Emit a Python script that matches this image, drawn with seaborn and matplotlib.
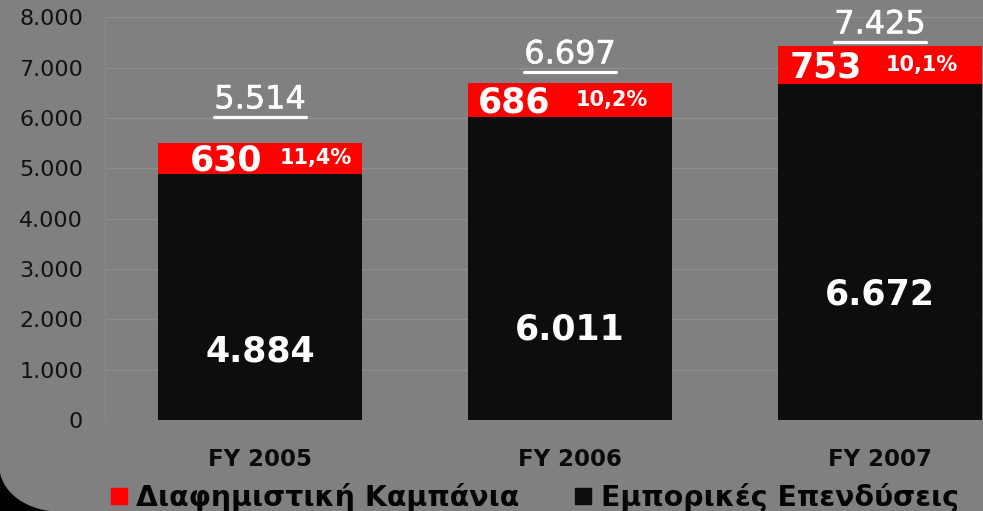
import matplotlib
matplotlib.use("Agg")
import matplotlib.pyplot as plt
import matplotlib.patheffects as pe
import seaborn as sns
import pandas as pd
from matplotlib.patches import Rectangle, Ellipse
from matplotlib.lines import Line2D
from matplotlib.ticker import FuncFormatter, MultipleLocator

# Data
years = ['FY 2005', 'FY 2006', 'FY 2007']
commercial = [4884, 6011, 6672]       # Εμπορικές Επενδύσεις
campaign = [630, 686, 753]            # Διαφημιστική Καμπάνια
campaign_pct = ['11,4%', '10,2%', '10,1%']
totals = [5514, 6697, 7425]
legend_labels = ['Διαφημιστική Καμπάνια', 'Εμπορικές Επενδύσεις']

# label placement (layout only)
inner_label_y = [1352, 1789, 2485]
total_label_y = [6361, 7255, 7851]
num_dx = [-0.11, -0.18, -0.175]
pct_dx = [0.18, 0.135, 0.135]

BG = '#808080'
RED = '#ff0000'
BLACK = '#0d0d0d'


def gr(v):
    return f'{int(v):,}'.replace(',', '.')


df = pd.DataFrame({'year': years, 'commercial': commercial,
                   'campaign': campaign, 'total': totals})

sns.set_style('white')
plt.rcParams['font.family'] = ['DejaVu Sans']

fig = plt.figure(figsize=(9.83, 5.11), dpi=100, facecolor=BG)
ax = fig.add_axes([0.107, 0.178, 0.893, 0.788])
ax.set_facecolor(BG)

# stacked bars: totals in red, commercial part in black over it
sns.barplot(data=df, x='year', y='total', color=RED, width=0.66,
            saturation=1, linewidth=0, ax=ax, zorder=2)
sns.barplot(data=df, x='year', y='commercial', color=BLACK, width=0.66,
            saturation=1, linewidth=0, ax=ax, zorder=3)

ax.set_xlim(-0.5, 2.332)
ax.set_ylim(0, 8000)
ax.yaxis.set_major_locator(MultipleLocator(1000))
ax.yaxis.set_major_formatter(FuncFormatter(lambda v, p: gr(v)))
ax.grid(axis='y', color='#8e8e8e', linewidth=1, zorder=0)
ax.set_axisbelow(True)
for s in ['top', 'right', 'bottom']:
    ax.spines[s].set_visible(False)
ax.spines['left'].set_color('#8a8a8a')
ax.spines['left'].set_linewidth(1)
ax.tick_params(axis='y', length=5, color='#8e8e8e', pad=11,
               labelsize=16, labelcolor='#111111')
ax.tick_params(axis='x', length=0, pad=20)
for lab in ax.get_xticklabels():
    lab.set_fontweight('bold')
    lab.set_fontsize(16.5)
    lab.set_color('#0a0a0a')
ax.set_xlabel('')
ax.set_ylabel('')

for i in range(len(years)):
    ax.text(i, inner_label_y[i], gr(commercial[i]), ha='center', va='center',
            color='white', fontsize=25, fontweight='bold', zorder=5)
    mid = commercial[i] + campaign[i] / 2
    ax.text(i + num_dx[i], mid - 40, str(campaign[i]), ha='center', va='center',
            color='white', fontsize=25, fontweight='bold', zorder=5)
    ax.text(i + pct_dx[i], mid, campaign_pct[i], ha='center', va='center',
            color='white', fontsize=15, fontweight='bold', zorder=5)

fig.canvas.draw()
renderer = fig.canvas.get_renderer()
for i in range(len(years)):
    t = ax.text(i, total_label_y[i], gr(totals[i]), ha='center', va='center',
                color='white', fontsize=23, zorder=5,
                path_effects=[pe.withStroke(linewidth=0.45, foreground='white')])
    bb = t.get_window_extent(renderer)
    y_line = bb.y0 - 2
    fig.add_artist(Line2D([bb.x0 / fig.bbox.width, bb.x1 / fig.bbox.width],
                          [y_line / fig.bbox.height] * 2,
                          color='white', linewidth=2.3))

# legend
handles = [Line2D([], [], marker='s', linestyle='', markersize=11.5,
                  markerfacecolor=c, markeredgecolor=c) for c in [RED, BLACK]]
leg = fig.legend(handles, legend_labels, loc='lower left', ncol=2, frameon=False,
                 bbox_to_anchor=(0.086, -0.052), handlelength=0.6,
                 handletextpad=0.33, columnspacing=1.95,
                 prop={'weight': 'bold', 'size': 20.4})
for t in leg.get_texts():
    t.set_color('#050505')

# dark rounded corner at bottom-left
fig.add_artist(Rectangle((0, 0), 60 / 983, 45 / 511, transform=fig.transFigure,
                         color='black', zorder=-2))
fig.add_artist(Ellipse((60 / 983, 45 / 511), 120 / 983, 90 / 511,
                       transform=fig.transFigure, color=BG, zorder=-1))

fig.savefig('out.png', dpi=100, facecolor=BG)
